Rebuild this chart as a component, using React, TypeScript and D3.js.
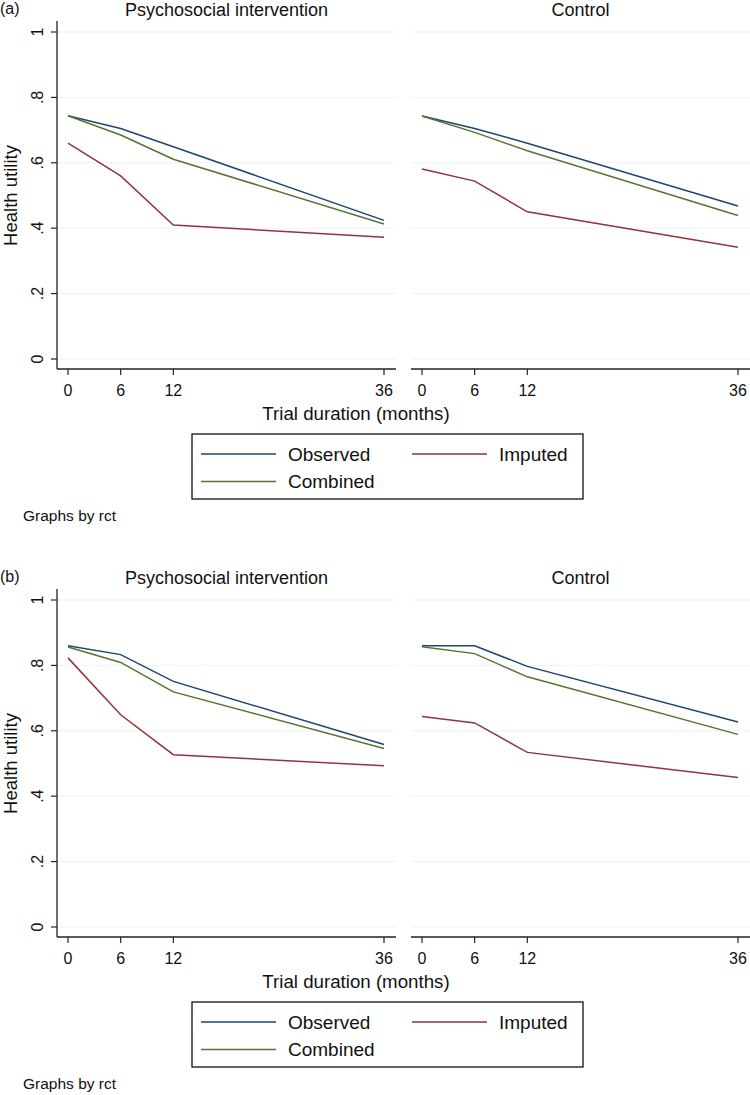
import React from "react";
import * as d3 from "d3";

// ---------- data ----------
const months = [0, 6, 12, 36];
const yTickValues = [0, 0.2, 0.4, 0.6, 0.8, 1];
const yTickLabels = ["0", ".2", ".4", ".6", ".8", "1"];
const xTickLabels = ["0", "6", "12", "36"];
const groupNames = ["Psychosocial intervention", "Control"];
const seriesNames = ["Observed", "Imputed", "Combined"];
const figureLabels = ["(a)", "(b)"];

// Panel (a)
const aInterventionObserved = [0.744, 0.705, 0.649, 0.424];
const aInterventionImputed = [0.66, 0.56, 0.41, 0.372];
const aInterventionCombined = [0.744, 0.685, 0.611, 0.413];
const aControlObserved = [0.743, 0.705, 0.66, 0.468];
const aControlImputed = [0.581, 0.544, 0.45, 0.342];
const aControlCombined = [0.743, 0.693, 0.637, 0.439];

// Panel (b)
const bInterventionObserved = [0.86, 0.833, 0.751, 0.558];
const bInterventionImputed = [0.823, 0.649, 0.527, 0.493];
const bInterventionCombined = [0.856, 0.809, 0.719, 0.546];
const bControlObserved = [0.86, 0.86, 0.797, 0.627];
const bControlImputed = [0.644, 0.624, 0.534, 0.457];
const bControlCombined = [0.857, 0.836, 0.765, 0.589];

const figures = [
  [
    [aInterventionObserved, aInterventionImputed, aInterventionCombined],
    [aControlObserved, aControlImputed, aControlCombined],
  ],
  [
    [bInterventionObserved, bInterventionImputed, bInterventionCombined],
    [bControlObserved, bControlImputed, bControlCombined],
  ],
];

// ---------- styling ----------
const colors = ["#1a476f", "#90353b", "#55752f"];
const FONT = "'Liberation Sans', Arial, Helvetica, sans-serif";
const figOffset = 568;

const panelsX = [
  { left: 57, right: 396, x0: 68, x1: 384 },
  { left: 411, right: 750, x0: 422, x1: 738 },
];
const yTop = 32;
const yBottom = 359;
const xAxisY = 369;
const yAxisTop = 21;

function Figure({ idx }: { idx: number }) {
  const oy = idx * figOffset;
  const y = d3.scaleLinear().domain([0, 1]).range([yBottom + oy, yTop + oy]);
  const data = figures[idx];
  return (
    <g>
      <text x={0} y={14 + oy} fontSize={16} fontFamily={FONT} fill="#111">
        {figureLabels[idx]}
      </text>
      {panelsX.map((p, pi) => {
        const x = d3.scaleLinear().domain([0, 36]).range([p.x0, p.x1]);
        const line = d3
          .line<number>()
          .x((_, i) => x(months[i]))
          .y((d) => y(d));
        return (
          <g key={pi}>
            {/* gridlines */}
            {yTickValues.map((v) => (
              <line
                key={"g" + v}
                x1={p.left}
                x2={p.right}
                y1={y(v)}
                y2={y(v)}
                stroke="#edf3f4"
                strokeWidth={1}
              />
            ))}
            {/* title */}
            <text
              x={(p.left + p.right) / 2}
              y={15.5 + oy}
              textAnchor="middle"
              fontSize={18}
              fontFamily={FONT}
              fill="#111"
            >
              {groupNames[pi]}
            </text>
            {/* x axis */}
            <line
              x1={p.left}
              x2={p.right}
              y1={xAxisY + oy}
              y2={xAxisY + oy}
              stroke="#222"
              strokeWidth={1.3}
            />
            {months.map((m, i) => (
              <g key={"xt" + m}>
                <line
                  x1={x(m)}
                  x2={x(m)}
                  y1={xAxisY + oy}
                  y2={xAxisY + 6 + oy}
                  stroke="#222"
                  strokeWidth={1.2}
                />
                <text
                  x={x(m)}
                  y={396 + oy}
                  textAnchor="middle"
                  fontSize={16}
                  fontFamily={FONT}
                  fill="#111"
                >
                  {xTickLabels[i]}
                </text>
              </g>
            ))}
            {/* y axis only for first panel */}
            {pi === 0 && (
              <g>
                <line
                  x1={p.left}
                  x2={p.left}
                  y1={yAxisTop + oy}
                  y2={xAxisY + oy}
                  stroke="#222"
                  strokeWidth={1.3}
                />
                {yTickValues.map((v, i) => (
                  <g key={"yt" + v}>
                    <line
                      x1={p.left - 6}
                      x2={p.left}
                      y1={y(v)}
                      y2={y(v)}
                      stroke="#222"
                      strokeWidth={1.2}
                    />
                    <text
                      transform={`translate(43,${y(v)}) rotate(-90)`}
                      textAnchor="middle"
                      fontSize={16}
                      fontFamily={FONT}
                      fill="#111"
                    >
                      {yTickLabels[i]}
                    </text>
                  </g>
                ))}
                <text
                  transform={`translate(17,${(yTop + yBottom) / 2 + oy}) rotate(-90)`}
                  textAnchor="middle"
                  fontSize={18.5}
                  fontFamily={FONT}
                  fill="#111"
                >
                  Health utility
                </text>
              </g>
            )}
            {/* series */}
            {data[pi].map((s, si) => (
              <path
                key={"s" + si}
                d={line(s) || ""}
                fill="none"
                stroke={colors[si]}
                strokeWidth={1.5}
              />
            ))}
          </g>
        );
      })}
      {/* x axis title */}
      <text
        x={356}
        y={420 + oy}
        textAnchor="middle"
        fontSize={18.7}
        fontFamily={FONT}
        fill="#111"
      >
        Trial duration (months)
      </text>
      {/* legend */}
      <rect
        x={192}
        y={434 + oy}
        width={391}
        height={65}
        fill="white"
        stroke="#111"
        strokeWidth={1.3}
      />
      {[
        { si: 0, lx: 201, ty: 454 },
        { si: 1, lx: 412, ty: 454 },
        { si: 2, lx: 201, ty: 481.5 },
      ].map((e) => (
        <g key={"lg" + e.si}>
          <line
            x1={e.lx}
            x2={e.lx + 75}
            y1={e.ty + oy}
            y2={e.ty + oy}
            stroke={colors[e.si]}
            strokeWidth={1.5}
          />
          <text
            x={e.lx + 87}
            y={e.ty + 6.5 + oy}
            fontSize={19}
            fontFamily={FONT}
            fill="#111"
          >
            {seriesNames[e.si]}
          </text>
        </g>
      ))}
      <text x={23} y={521 + oy} fontSize={15.5} fontFamily={FONT} fill="#111">
        Graphs by rct
      </text>
    </g>
  );
}

export default function App() {
  return (
    <svg
      width={750}
      height={1095}
      viewBox="0 0 750 1095"
      style={{ position: "absolute", left: 0, top: 0, background: "white" }}
    >
      <rect x={0} y={0} width={750} height={1095} fill="white" />
      <Figure idx={0} />
      <Figure idx={1} />
    </svg>
  );
}
